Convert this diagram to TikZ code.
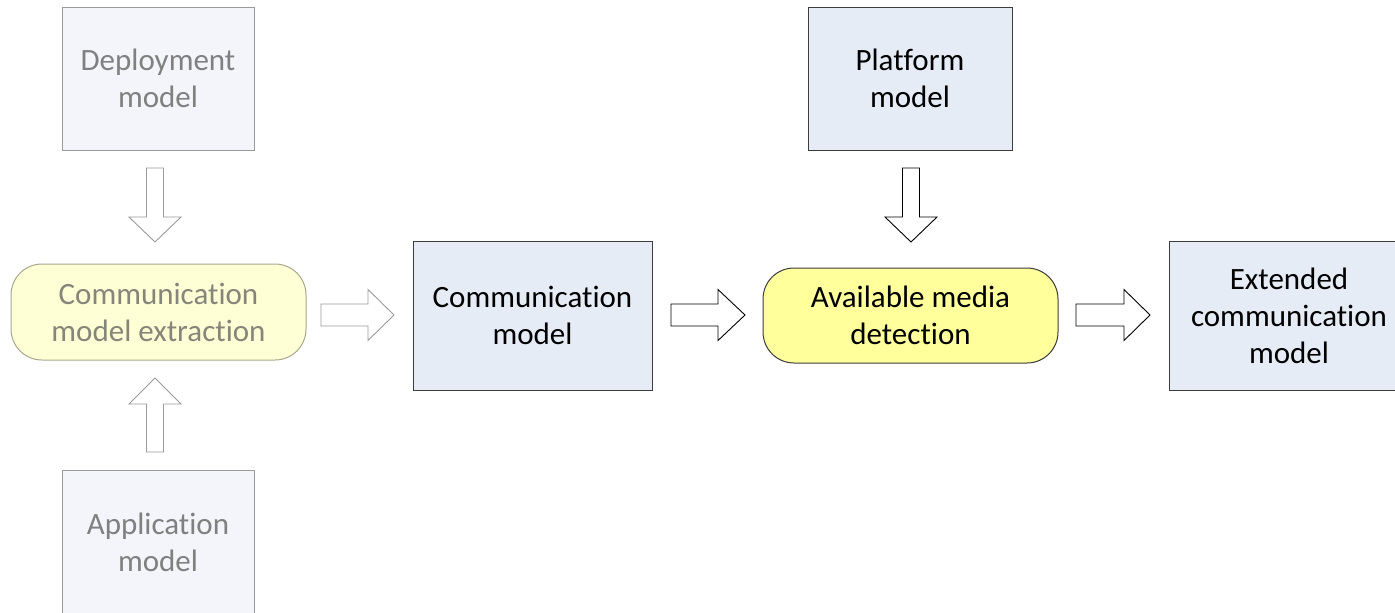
\documentclass[tikz,border=0pt]{standalone}
\usepackage{fontspec}
\setmainfont{Carlito}[Ligatures=NoCommon]
\usetikzlibrary{positioning}

\definecolor{boxfill}{HTML}{E6ECF6}
\definecolor{boxline}{HTML}{3C3C3C}
\definecolor{procfill}{HTML}{FFFF9C}
\definecolor{fadefill}{HTML}{F3F5FA}
\definecolor{fadeline}{HTML}{9A9A9A}
\definecolor{fadetext}{HTML}{808080}
\definecolor{fadeproc}{HTML}{FFFFD6}
\definecolor{fadeprocline}{HTML}{A8A890}
\definecolor{fadeproctext}{HTML}{85857A}

% horizontal block arrow: left end, head base, tip, centre line, style
\newcommand\hblockarrow[5]{%
  \draw[#5] (#1,#4-11) -- (#2,#4-11) -- (#2,#4-25.5) -- (#3,#4)
    -- (#2,#4+25.5) -- (#2,#4+11) -- (#1,#4+11) -- cycle;}
% vertical block arrow: x centre, tail, head base, tip, style
\newcommand\vblockarrow[5]{%
  \draw[#5] (#1-8.5,#2) -- (#1-8.5,#3) -- (#1-26,#3) -- (#1,#4)
    -- (#1+26,#3) -- (#1+8.5,#3) -- (#1+8.5,#2) -- cycle;}

\tikzset{
  txt/.style={font=\fontsize{31}{37}\selectfont, align=center, inner sep=0pt},
  modelbox/.style={txt, draw=boxline, fill=boxfill, line width=1pt},
  fadebox/.style={txt, draw=fadeline, fill=fadefill, text=fadetext, line width=1pt},
  procbox/.style={txt, draw=boxline, fill=procfill, line width=1pt, rounded corners=31pt},
  fadeproc/.style={txt, draw=fadeprocline, fill=fadeproc, text=fadeproctext, line width=1pt, rounded corners=31pt},
  blockarrow/.style={draw=black, fill=white, line width=0.9pt, line join=miter},
  fadearrow/.style={draw=fadeline, fill=white, line width=0.9pt, line join=miter},
}

\begin{document}
\begin{tikzpicture}[x=1pt, y=-1pt]
  \useasboundingbox (0,0) rectangle (1395,613);
  \clip (0,0) rectangle (1395,613);

  % input models feeding the extraction step
  \node[fadebox, minimum width=192pt, minimum height=143pt] (deploy) at (158,78.5) {Deployment\\model};
  \node[fadeproc, minimum width=295pt, minimum height=96pt] (extract) at (158.5,312) {Communication\\model extraction};
  \node[fadebox, minimum width=192pt, minimum height=144pt] (app) at (158,542) {Application\\model};

  % main chain
  \node[modelbox, minimum width=239pt, minimum height=149pt] (comm) at (532.5,315.5) {Communication\\model};
  \node[procbox, minimum width=295pt, minimum height=95pt] (detect) at (910.5,315.5) {Available media\\detection};
  \node[modelbox, minimum width=204pt, minimum height=143pt] (platform) at (910,78.5) {Platform\\model};
  \node[modelbox, minimum width=240pt, minimum height=149pt] (ext) at (1289,315.5) {Extended\\communication\\model};

  % block arrows between the steps
  \vblockarrow{155}{168}{217}{242}{fadearrow}
  \vblockarrow{155}{452}{404}{378}{fadearrow}
  \hblockarrow{321}{368}{394}{315}{fadearrow}
  \hblockarrow{671}{718}{745}{315}{blockarrow}
  \vblockarrow{911}{168}{217}{242}{blockarrow}
  \hblockarrow{1076}{1124}{1150}{315}{blockarrow}
\end{tikzpicture}
\end{document}
